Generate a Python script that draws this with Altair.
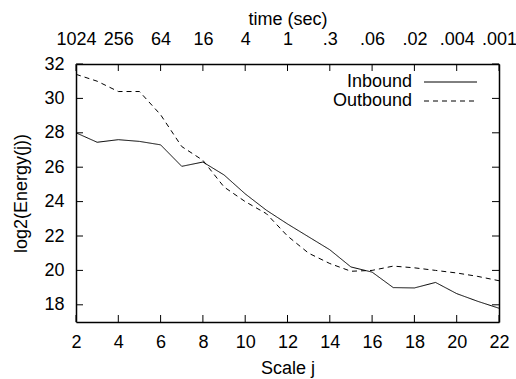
import altair as alt
import pandas as pd

scale_j = list(range(2, 23))
inbound = [28.0, 27.45, 27.6, 27.5, 27.3, 26.05, 26.3, 25.55, 24.45, 23.5, 22.7,
           21.95, 21.2, 20.2, 19.9, 19.0, 18.98, 19.3, 18.65, 18.2, 17.8]
outbound = [31.4, 31.0, 30.4, 30.4, 29.05, 27.2, 26.4, 24.85, 24.0, 23.3, 22.0,
            21.0, 20.4, 19.95, 20.0, 20.25, 20.15, 20.0, 19.85, 19.65, 19.4]
series_names = ["Inbound", "Outbound"]
x_ticks = [2, 4, 6, 8, 10, 12, 14, 16, 18, 20, 22]
y_ticks = [18, 20, 22, 24, 26, 28, 30, 32]
time_labels = ["1024", "256", "64", "16", "4", "1", ".3", ".06", ".02", ".004", ".001"]

FONT = "Liberation Sans"
FS = 18
W, H = 423, 258

df = pd.DataFrame({
    "j": scale_j * 2,
    "energy": inbound + outbound,
    "series": [series_names[0]] * len(scale_j) + [series_names[1]] * len(scale_j),
})
xt = pd.DataFrame({"x": x_ticks})
yt = pd.DataFrame({"y": y_ticks})

xscale = alt.Scale(domain=[2, 22], nice=False, zero=False)
yscale = alt.Scale(domain=[17, 32], nice=False, zero=False)

lines = alt.Chart(df).mark_line(color="black", strokeWidth=1).encode(
    x=alt.X("j:Q", scale=xscale, axis=alt.Axis(
        orient="bottom", title="Scale j", values=x_ticks, ticks=False, tickSize=0,
        labelPadding=11, titlePadding=8, grid=False)),
    y=alt.Y("energy:Q", scale=yscale, axis=alt.Axis(
        orient="left", title="log2(Energy(j))", values=y_ticks, ticks=False, tickSize=0,
        labelPadding=12, titlePadding=13, grid=False)),
    strokeDash=alt.StrokeDash("series:N", scale=alt.Scale(domain=series_names, range=[[1, 0], [5, 4]]), legend=None),
    detail="series:N",
)

label_expr = "[" + ",".join("'" + s + "'" for s in time_labels) + "][(datum.value-2)/2]"

top_ticks = alt.Chart(xt).mark_rule(color="black", strokeWidth=1).encode(
    x=alt.X("x:Q", scale=xscale, axis=alt.Axis(
        orient="top", title="time (sec)", values=x_ticks, ticks=False, tickSize=0,
        labelExpr=label_expr, labelPadding=16, titlePadding=2, grid=False)),
    y=alt.value(0), y2=alt.value(7),
)
bottom_ticks = alt.Chart(xt).mark_rule(color="black", strokeWidth=1).encode(
    x=alt.X("x:Q", scale=xscale, axis=None),
    y=alt.value(H), y2=alt.value(H - 7),
)
left_ticks = alt.Chart(yt).mark_rule(color="black", strokeWidth=1).encode(
    y=alt.Y("y:Q", scale=yscale, axis=None),
    x=alt.value(0), x2=alt.value(7),
)
right_ticks = alt.Chart(yt).mark_rule(color="black", strokeWidth=1).encode(
    y=alt.Y("y:Q", scale=yscale, axis=alt.Axis(
        orient="right", labels=False, ticks=False, tickSize=0, title=None, grid=False)),
    x=alt.value(W), x2=alt.value(W - 7),
)

legend_layers = []
for i, name in enumerate(series_names):
    yy = 18 + i * 19
    legend_layers.append(alt.Chart(pd.DataFrame({"name": [name]})).mark_text(
        align="right", baseline="middle", font=FONT, fontSize=FS, color="black").encode(
        text="name:N", x=alt.value(336), y=alt.value(yy)))
    legend_layers.append(alt.Chart(pd.DataFrame({"name": [name]})).mark_rule(
        color="black", strokeWidth=1, strokeDash=[1, 0] if i == 0 else [5, 4]).encode(
        x=alt.value(348), x2=alt.value(401), y=alt.value(yy)))

chart = alt.layer(lines, top_ticks, bottom_ticks, left_ticks, right_ticks, *legend_layers).resolve_axis(
    x="independent", y="independent"
).properties(
    width=W, height=H,
    autosize=alt.AutoSizeParams(type="none"),
    padding={"left": 76, "top": 64, "right": 17, "bottom": 57},
).configure_view(stroke=None).configure_axis(
    domainColor="black", domainWidth=1.5, labelFont=FONT, labelFontSize=FS, labelColor="black",
    titleFont=FONT, titleFontSize=FS, titleColor="black", titleFontWeight="normal",
    labelFlush=False, labelOverlap=False,
)

chart.save("out.html", embed_options={"renderer": "svg", "actions": False})
